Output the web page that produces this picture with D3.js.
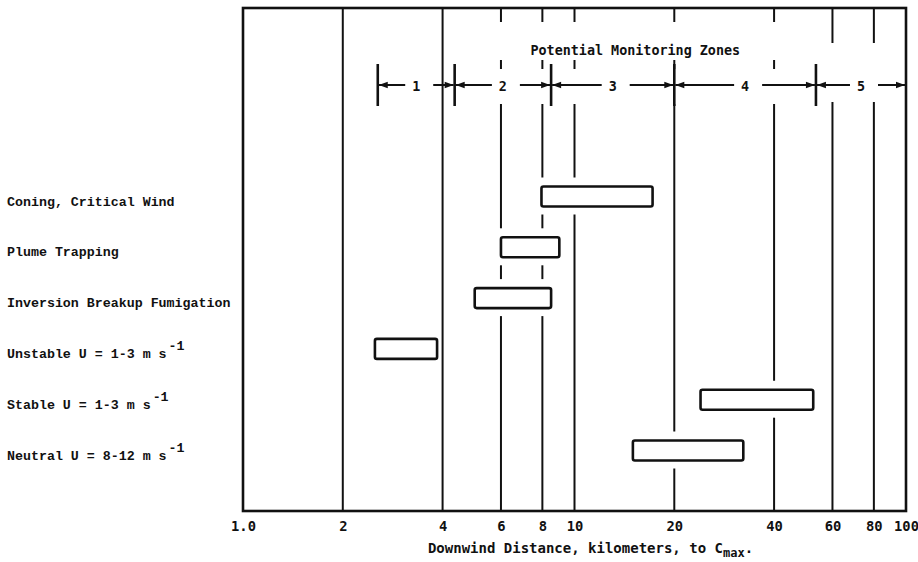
<!DOCTYPE html>
<html>
<head>
<meta charset="utf-8">
<script src="https://cdn.jsdelivr.net/npm/d3@7"></script>
<style>
  body { margin: 0; background: #fff; }
  svg { display: block; }
</style>
</head>
<body>
<svg id="chart" width="918" height="562"></svg>
<script>
// Meteorological conditions and the downwind distance range (km) to C_max
const rowLabels = [
  "Coning, Critical Wind",
  "Plume Trapping",
  "Inversion Breakup Fumigation",
  "Unstable U = 1-3 m s",
  "Stable U = 1-3 m s",
  "Neutral U = 8-12 m s"
];
const rowUnits = ["", "", "", "-1", "-1", "-1"];
const rangeStart = [7.95, 6.0, 5.0, 2.5, 24, 15];
const rangeEnd   = [17.2, 9.0, 8.5, 3.85, 52.5, 32.3];

// Log axis ticks and grid
const xTicks = [1, 2, 4, 6, 8, 10, 20, 40, 60, 80, 100];
const xTickLabels = ["1.0", "2", "4", "6", "8", "10", "20", "40", "60", "80", "100"];
const gridValues = [2, 4, 6, 8, 10, 20, 40, 60, 80];

// Potential monitoring zones and their boundaries (km)
const zoneNames = ["1", "2", "3", "4", "5"];
const zoneBounds = [2.55, 4.35, 8.5, 20, 53.5, 100];

const svg = d3.select("#chart");
const plot = { left: 243, right: 906, top: 8, bottom: 511 };
const ink = "#111";
const axisFont = "'DejaVu Sans Mono', monospace";
const labelFont = "'Courier New', 'Liberation Mono', monospace";

const x = d3.scaleLog().domain([1, 100]).range([plot.left, plot.right]);
const y = d3.scalePoint().domain(rowLabels).range([196.5, 450.5]);
const boxH = 20;

// Header bands
const zoneY = 85;
const titleY = 55;

// Grid lines, broken around the header and around the range boxes
function gapsFor(v) {
  const gaps = [];
  if (v > 5 && v < 50) { gaps.push([22, 60], [69, 104]); }
  else if (v >= 50) { gaps.push([43, 102]); }
  rowLabels.forEach((r, i) => {
    if (v >= rangeStart[i] * 0.99 && v <= rangeEnd[i] * 1.01) {
      gaps.push([y(r) - boxH / 2 - 9, y(r) + boxH / 2 + 8]);
    }
  });
  gaps.sort((a, b) => a[0] - b[0]);
  const segs = [];
  let cur = plot.top;
  gaps.forEach(g => {
    if (g[0] > cur) segs.push([cur, g[0]]);
    cur = Math.max(cur, g[1]);
  });
  if (cur < plot.bottom) segs.push([cur, plot.bottom]);
  return segs;
}

const gridG = svg.append("g").attr("stroke", ink).attr("stroke-width", 2);
gridValues.forEach(v => {
  gridG.selectAll(null)
    .data(gapsFor(v))
    .enter().append("line")
    .attr("x1", x(v)).attr("x2", x(v))
    .attr("y1", d => d[0]).attr("y2", d => d[1]);
});

// Frame
svg.append("rect")
  .attr("x", plot.left).attr("y", plot.top)
  .attr("width", plot.right - plot.left).attr("height", plot.bottom - plot.top)
  .attr("fill", "none").attr("stroke", ink).attr("stroke-width", 2.6);

// Range boxes
svg.append("g").selectAll("rect")
  .data(rowLabels)
  .enter().append("rect")
  .attr("x", (d, i) => x(rangeStart[i]))
  .attr("width", (d, i) => x(rangeEnd[i]) - x(rangeStart[i]))
  .attr("y", d => y(d) - boxH / 2)
  .attr("height", boxH)
  .attr("rx", 2)
  .attr("fill", "#fff")
  .attr("stroke", ink)
  .attr("stroke-width", 2.6);

// Row labels
const rowText = svg.append("g").selectAll("text")
  .data(rowLabels)
  .enter().append("text")
  .attr("x", 7)
  .attr("y", d => y(d) + 9)
  .attr("font-family", labelFont)
  .attr("font-size", 13.3)
  .attr("font-weight", "bold")
  .attr("fill", ink);
rowText.append("tspan").text(d => d);
rowText.append("tspan")
  .attr("dy", -8)
  .attr("dx", 2)
  .text((d, i) => rowUnits[i]);

// Monitoring zones header
svg.append("text")
  .attr("x", (x(zoneBounds[1]) + x(zoneBounds[4])) / 2)
  .attr("y", titleY)
  .attr("text-anchor", "middle")
  .attr("font-family", axisFont)
  .attr("font-weight", "bold")
  .attr("font-size", 13.4)
  .attr("fill", ink)
  .text("Potential Monitoring Zones");

const zoneG = svg.append("g");
// boundary bars
zoneG.selectAll("line.bar")
  .data(zoneBounds.slice(0, -1))
  .enter().append("line")
  .attr("x1", d => x(d)).attr("x2", d => x(d))
  .attr("y1", zoneY - 21).attr("y2", zoneY + 21)
  .attr("stroke", ink).attr("stroke-width", 2.6);

const labelGap = 17;
const arrowLen = 9, arrowHalf = 3.2;
zoneNames.forEach((name, i) => {
  const lo = x(zoneBounds[i]);
  const hi = x(zoneBounds[i + 1]);
  const mid = x(Math.sqrt(zoneBounds[i] * zoneBounds[i + 1]));
  zoneG.append("text")
    .attr("x", mid).attr("y", zoneY + 6)
    .attr("text-anchor", "middle")
    .attr("font-family", axisFont)
    .attr("font-weight", "bold")
    .attr("font-size", 13.4)
    .attr("fill", ink)
    .text(name);
  // left arrow toward lower boundary
  zoneG.append("line")
    .attr("x1", mid - labelGap + 6).attr("x2", lo + 1)
    .attr("y1", zoneY).attr("y2", zoneY)
    .attr("stroke", ink).attr("stroke-width", 2);
  zoneG.append("path")
    .attr("d", `M${lo + 1},${zoneY} L${lo + 1 + arrowLen},${zoneY - arrowHalf} L${lo + 1 + arrowLen},${zoneY + arrowHalf} Z`)
    .attr("fill", ink);
  // right arrow toward upper boundary
  zoneG.append("line")
    .attr("x1", mid + labelGap).attr("x2", hi - 1)
    .attr("y1", zoneY).attr("y2", zoneY)
    .attr("stroke", ink).attr("stroke-width", 2);
  zoneG.append("path")
    .attr("d", `M${hi - 1},${zoneY} L${hi - 1 - arrowLen},${zoneY - arrowHalf} L${hi - 1 - arrowLen},${zoneY + arrowHalf} Z`)
    .attr("fill", ink);
});

// X axis tick labels
const xAxis = d3.axisBottom(x)
  .tickValues(xTicks)
  .tickFormat((d, i) => xTickLabels[i])
  .tickSize(0)
  .tickPadding(10);
const axisG = svg.append("g")
  .attr("transform", `translate(0,${plot.bottom})`)
  .call(xAxis);
axisG.select(".domain").remove();
axisG.selectAll("text")
  .attr("font-family", axisFont)
  .attr("font-weight", "bold")
  .attr("font-size", 13.8)
  .attr("fill", ink);

// X axis title
const xTitle = svg.append("text")
  .attr("x", (plot.left + plot.right) / 2 + 16)
  .attr("y", 553)
  .attr("text-anchor", "middle")
  .attr("font-family", axisFont)
  .attr("font-weight", "bold")
  .attr("font-size", 14)
  .attr("fill", ink);
xTitle.append("tspan").text("Downwind Distance, kilometers, to C");
xTitle.append("tspan").attr("dy", 4).attr("font-size", 12).text("max");
xTitle.append("tspan").attr("dy", -4).text(".");
</script>
</body>
</html>
